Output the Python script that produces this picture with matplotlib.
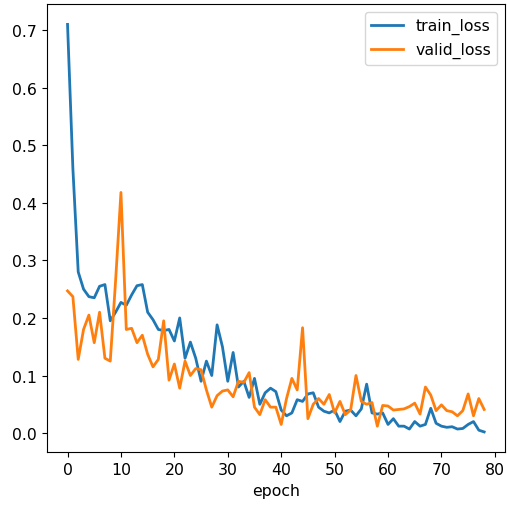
import matplotlib
matplotlib.use("Agg")
import matplotlib.pyplot as plt
import numpy as np

epochs = np.arange(79)

train_loss = [
    0.71, 0.46, 0.28, 0.25, 0.237, 0.235, 0.255, 0.258, 0.195, 0.21,
    0.227, 0.222, 0.24, 0.256, 0.258, 0.21, 0.197, 0.18, 0.178, 0.18,
    0.16, 0.2, 0.13, 0.158, 0.13, 0.09, 0.125, 0.1, 0.188, 0.15,
    0.09, 0.14, 0.08, 0.09, 0.062, 0.095, 0.05, 0.07, 0.078, 0.072,
    0.04, 0.03, 0.035, 0.058, 0.055, 0.068, 0.07, 0.045, 0.038, 0.035,
    0.04, 0.02, 0.038, 0.04, 0.03, 0.042, 0.085, 0.035, 0.033, 0.035,
    0.015, 0.025, 0.012, 0.012, 0.007, 0.02, 0.012, 0.015, 0.043, 0.017,
    0.012, 0.01, 0.011, 0.007, 0.008, 0.015, 0.02, 0.005, 0.002,
]

valid_loss = [
    0.247, 0.237, 0.128, 0.18, 0.205, 0.157, 0.21, 0.13, 0.125, 0.265,
    0.418, 0.18, 0.182, 0.157, 0.17, 0.137, 0.115, 0.128, 0.195, 0.092,
    0.12, 0.078, 0.125, 0.1, 0.112, 0.11, 0.075, 0.045, 0.065, 0.073,
    0.075, 0.063, 0.09, 0.088, 0.105, 0.045, 0.032, 0.058, 0.045, 0.045,
    0.015, 0.06, 0.095, 0.075, 0.183, 0.025, 0.05, 0.06, 0.05, 0.067,
    0.035, 0.055, 0.032, 0.04, 0.1, 0.055, 0.05, 0.053, 0.012, 0.048,
    0.047, 0.04, 0.041, 0.042, 0.046, 0.052, 0.033, 0.08, 0.066, 0.039,
    0.049, 0.039, 0.037, 0.03, 0.039, 0.068, 0.03, 0.06, 0.041,
]

plt.rcParams['font.size'] = 11.3

fig = plt.figure(figsize=(5.07, 5.06), dpi=100)
ax = fig.add_axes([46.7 / 507, 1 - 453.3 / 506, (505 - 46.7) / 507, (453.3 - 5) / 506])
ax.plot(epochs, train_loss, label='train_loss', lw=2)
ax.plot(epochs, valid_loss, label='valid_loss', lw=2)
ax.set_xlabel('epoch')
ax.set_xticks(np.arange(0, 81, 10))
ax.legend(loc='upper right')

fig.savefig('out.png', dpi=100)
